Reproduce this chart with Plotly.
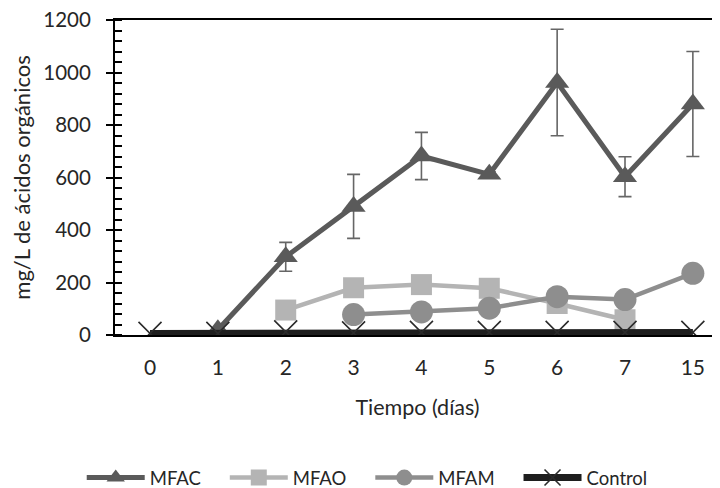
import plotly.graph_objects as go

days = ["0", "1", "2", "3", "4", "5", "6", "7", "15"]
mfac = [None, 20, 298, 490, 682, 612, 962, 603, 880]
mfac_err = [None, 0, 55, 122, 90, 10, 203, 76, 200]
mfao = [None, None, 95, 180, 192, 178, 120, 58, None]
mfam = [None, None, None, 78, 88, 102, 146, 135, 235]
control = [6, 6, 12, 8, 10, 10, 10, 10, 10]
names = ["MFAC", "MFAO", "MFAM", "Control"]

xpos = list(range(len(days)))
font = "Lato, 'Open Sans', sans-serif"
pad = "\u00a0\u00a0\u00a0\u00a0"

fig = go.Figure()
fig.add_trace(go.Scatter(
    x=xpos, y=mfac, name=names[0] + pad, mode="lines+markers",
    line=dict(color="#5a5a5a", width=5),
    marker=dict(symbol="triangle-up", size=21, color="#5a5a5a"),
    error_y=dict(type="data", array=mfac_err, visible=True, color="#666666",
                 thickness=1.6, width=6.5),
))
fig.add_trace(go.Scatter(
    x=xpos, y=mfao, name=names[1] + pad, mode="lines+markers",
    line=dict(color="#b4b4b4", width=4.5),
    marker=dict(symbol="square", size=21, color="#b4b4b4"),
))
fig.add_trace(go.Scatter(
    x=xpos, y=mfam, name=names[2] + pad, mode="lines+markers",
    line=dict(color="#8e8e8e", width=4.5),
    marker=dict(symbol="circle", size=23, color="#8e8e8e"),
))
fig.add_trace(go.Scatter(
    x=xpos, y=control, name=names[3], mode="lines+markers",
    line=dict(color="#1e1e1e", width=7),
    marker=dict(symbol="x-thin", size=23, line=dict(color="#2a2a2a", width=1.6)),
))

fig.update_layout(
    width=712, height=480,
    margin=dict(l=107, r=0, t=12, b=153, autoexpand=False),
    paper_bgcolor="white", plot_bgcolor="white",
    font=dict(family=font, size=21, color="#262626"),
    showlegend=True,
    legend=dict(orientation="h",
                x=-0.055, xanchor="left", y=-0.454, yanchor="middle",
                font=dict(size=18.5, color="#262626"), itemwidth=58,
                tracegroupgap=0, traceorder="normal"),
    xaxis=dict(
        range=[-0.516, 8.40], tickmode="array", tickvals=xpos, ticktext=days,
        showline=True, linecolor="black", linewidth=2, mirror=True,
        ticks="", showgrid=False, zeroline=False, automargin=False,
        ticklabelstandoff=13, ticklabeloverflow="allow",
        title=dict(text="Tiempo (días)", font=dict(size=21.5), standoff=22),
        tickfont=dict(size=21),
    ),
    yaxis=dict(
        range=[0, 1200], dtick=200, tick0=0,
        showline=True, linecolor="black", linewidth=2, automargin=False,
        ticks="outside", ticklen=7, tickwidth=2, tickcolor="black",
        minor=dict(ticks="inside", ticklen=7, tickwidth=2, tickcolor="black", dtick=40),
        showgrid=False, zeroline=False,
        ticklabelstandoff=11, ticklabeloverflow="allow",
        title=dict(text="mg/L de ácidos orgánicos", font=dict(size=22), standoff=8),
        tickfont=dict(size=20.5),
    ),
    yaxis2=dict(
        overlaying="y", matches="y", side="left", range=[0, 1200], dtick=200,
        ticks="inside", ticklen=7, tickwidth=2, tickcolor="black", automargin=False,
        showticklabels=False, showgrid=False, zeroline=False, showline=False,
    ),
)
fig.add_trace(go.Scatter(x=[None], y=[None], yaxis="y2", showlegend=False, hoverinfo="skip"))

fig.write_html("out.html")
